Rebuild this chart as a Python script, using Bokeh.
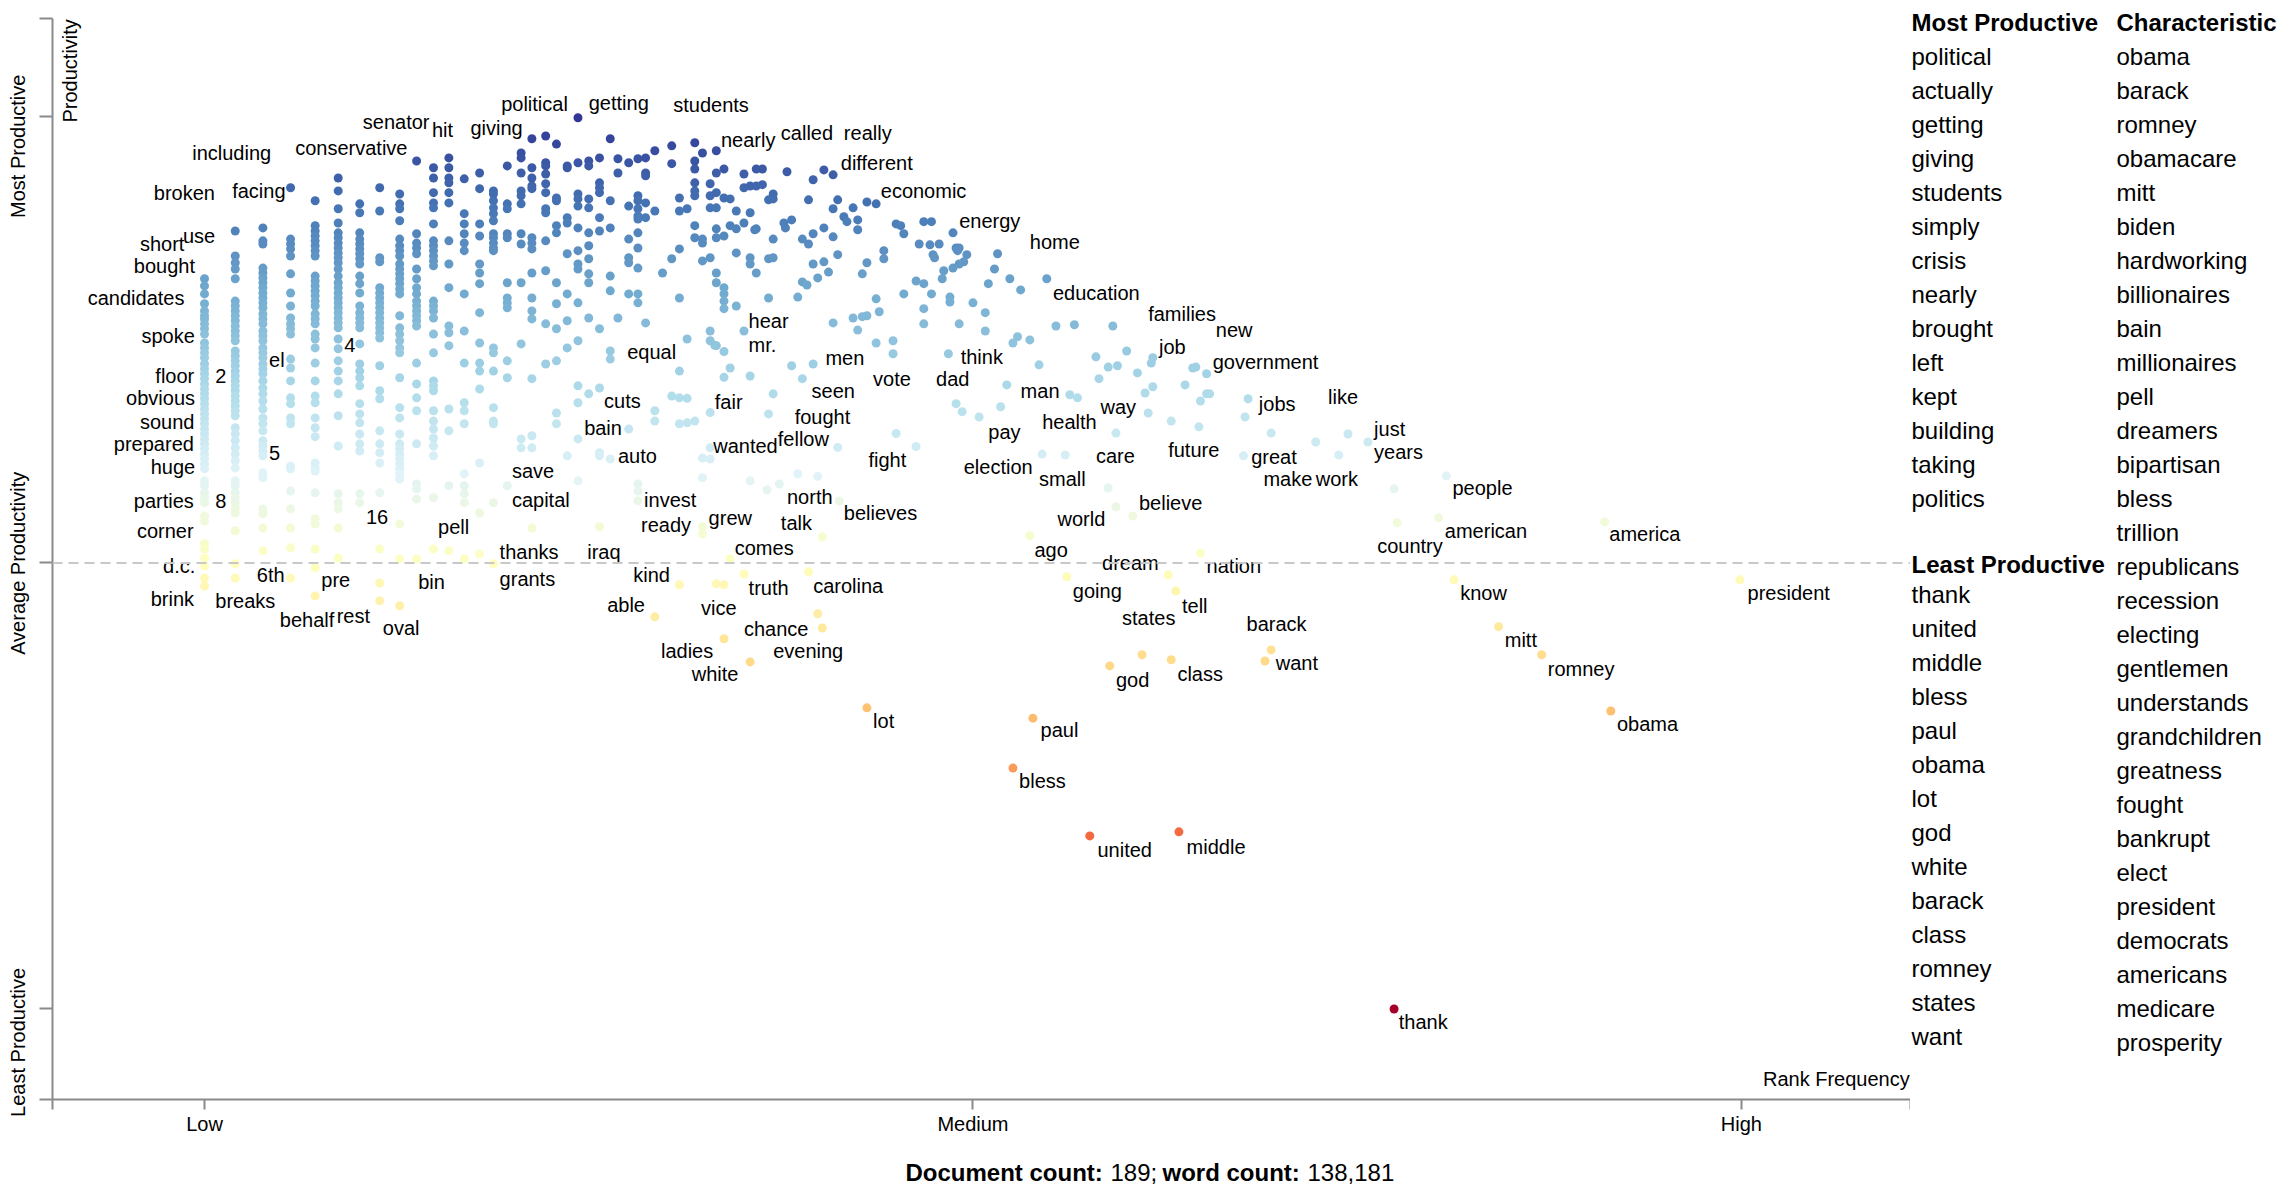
import math
from bokeh.plotting import figure
from bokeh.layouts import row, column
from bokeh.models import Range1d, FixedTicker, Label, Span, ColumnDataSource, LinearColorMapper, LinearAxis
from bokeh.core.properties import value
from bokeh.embed import file_html
from bokeh.resources import INLINE

FONT = "Liberation Sans"

# ---------------- data (x: rank frequency, Low=0 .. High=100; y: productivity, Least=-100 .. Most=100)
column_rank = [0.0, 2.0, 3.8, 5.6, 7.2, 8.7, 10.1, 11.4, 12.7, 13.8, 14.9, 15.9, 16.9, 17.9, 18.8,
               19.7, 20.6, 21.3, 22.2, 22.9, 23.6, 24.3, 25.0, 25.7, 26.4, 26.9, 27.6, 28.2, 28.7,
               29.3, 29.8, 30.4, 30.9, 31.4, 31.9, 32.4, 32.9, 33.3, 33.8, 34.2, 34.6, 35.1, 35.5, 35.9]

column_scores = [
    [63.7, 62.1, 60.3, 58.1, 56.5, 55.4, 54.7, 53.6, 52.5, 51.3, 49.3, 48.2, 47.1, 46.0, 44.6, 43.5, 42.4,
     41.3, 40.1, 39.0, 37.9, 36.8, 35.7, 34.5, 33.4, 32.3, 31.2, 30.0, 28.9, 27.8, 26.7, 25.6, 24.4, 23.3,
     22.2, 21.1, 18.4, 17.3, 15.7, 14.6, 13.5, 10.5, 9.4, 4.3, 3.1, 1.1, -0.7, -3.4, -5.2],
    [74.4, 68.8, 67.3, 65.9, 63.7, 58.7, 57.6, 56.5, 55.4, 54.3, 53.1, 52.0, 50.9, 49.8, 47.5, 46.4, 45.3,
     44.2, 43.0, 41.9, 40.8, 39.7, 38.6, 37.4, 36.3, 35.2, 34.1, 33.0, 30.3, 28.9, 27.4, 25.8, 24.4, 22.9,
     21.3, 18.4, 17.3, 15.7, 14.6, 13.5, 12.3, 11.2, 7.2, -0.2, -3.4],
    [75.1, 72.2, 71.5, 66.1, 65.0, 63.9, 62.8, 61.7, 60.5, 59.4, 58.3, 57.2, 55.8, 54.7, 53.6, 52.0, 50.9,
     49.8, 48.2, 47.1, 46.0, 44.6, 43.5, 42.4, 40.8, 39.2, 37.9, 36.3, 34.5, 32.5, 31.2, 29.6, 27.4, 26.2,
     25.1, 24.0, 20.2, 19.1, 12.1, 11.0, 7.8, 2.7],
    [84.1, 72.6, 71.5, 70.4, 68.8, 64.8, 60.5, 57.6, 54.9, 53.6, 52.5, 51.3, 45.7, 43.7, 40.8, 37.0, 35.7,
     32.5, 31.2, 21.7, 21.1, 16.1, 12.1, 7.8, 3.4, -3.4],
    [81.2, 75.6, 74.4, 73.3, 72.2, 71.1, 70.0, 68.8, 64.3, 63.2, 62.1, 61.0, 59.9, 58.7, 57.6, 55.8, 54.7,
     53.6, 51.3, 50.2, 48.2, 44.8, 40.8, 37.4, 35.9, 32.5, 30.3, 28.3, 22.4, 21.3, 20.6, 15.7, 9.9, 8.7,
     3.1, -1.1, -7.4],
    [86.3, 83.4, 79.4, 76.2, 74.0, 72.9, 71.7, 70.6, 69.5, 68.4, 67.3, 65.9, 64.3, 62.8, 61.7, 60.5, 59.4,
     58.3, 57.2, 56.1, 54.9, 53.8, 52.7, 50.2, 48.0, 45.3, 43.0, 40.8, 37.9, 33.0, 26.2, 15.5, 13.5, 12.1,
     7.8, 1.1],
    [80.5, 78.5, 74.0, 72.6, 71.5, 70.4, 69.3, 68.2, 67.0, 64.3, 62.6, 60.5, 57.6, 56.1, 54.9, 53.8, 52.7,
     49.1, 44.6, 43.0, 41.5, 39.7, 35.7, 33.4, 31.4, 28.9, 26.7, 25.1, 15.5, 13.5],
    [84.1, 78.9, 68.4, 67.5, 61.7, 60.5, 59.4, 58.3, 57.2, 56.1, 54.9, 53.8, 52.7, 51.6, 50.4, 44.2, 38.6,
     36.8, 29.6, 26.7, 24.7, 22.4, 15.7, 3.1, -4.5, -8.5],
    [82.7, 80.5, 79.4, 76.7, 72.6, 71.1, 70.0, 68.8, 67.0, 65.9, 64.8, 63.7, 62.6, 61.4, 60.3, 55.4, 52.7,
     51.3, 49.8, 48.2, 47.1, 41.5, 34.8, 32.5, 28.9, 26.7, 25.6, 24.4, 23.3, 22.2, 21.1, 20.0, 18.8, 8.7,
     0.9, -9.6],
    [90.1, 73.8, 71.7, 70.6, 69.3, 65.9, 63.7, 61.7, 60.3, 58.7, 57.6, 56.5, 55.4, 54.3, 53.1, 44.8, 40.1,
     37.0, 34.1, 26.7, 17.7, 16.6, 14.3, 0.9],
    [88.6, 86.3, 83.0, 80.7, 79.6, 76.0, 72.2, 71.1, 70.0, 68.8, 67.7, 66.6, 58.7, 57.6, 56.5, 54.9, 51.3,
     47.1, 40.8, 39.7, 38.6, 34.1, 31.8, 30.0, 28.0, 26.2, 24.0, 14.6, 3.1],
    [90.8, 88.6, 86.3, 85.2, 83.0, 80.7, 72.2, 67.0, 61.7, 53.1, 51.6, 48.7, 34.5, 29.6, 17.3, 2.7],
    [86.1, 78.3, 76.0, 73.8, 71.7, 70.0, 60.3, 52.0, 44.8, 35.9, 34.1, 31.2, 20.0, 17.3, 15.5, 13.5, 0.9],
    [87.4, 83.9, 76.0, 73.3, 67.0, 65.0, 62.6, 56.1, 49.3, 44.8, 43.0, 39.0, 22.4, 11.2, 2.0],
    [83.4, 82.7, 81.2, 79.6, 78.3, 76.7, 73.8, 72.9, 71.7, 70.6, 70.0, 48.2, 47.1, 43.0, 34.8, 31.8, 31.2,
     13.5, -0.2],
    [89.0, 80.5, 79.4, 73.8, 72.9, 62.8, 59.4, 58.3, 57.2, 45.3, 41.5, 17.3],
    [91.9, 90.8, 87.4, 83.4, 82.3, 80.5, 73.8, 71.5, 62.8, 49.1, 27.8, 25.8],
    [95.1, 88.6, 86.3, 84.5, 83.9, 72.9, 71.7, 70.4, 65.0, 59.4, 56.5, 54.7, 41.3, 28.5, 25.8, 7.8],
    [95.7, 89.7, 89.0, 87.2, 85.0, 83.0, 79.4, 78.5, 72.2, 65.5, 53.6, 44.6],
    [93.9, 81.8, 81.2, 75.6, 74.0, 62.8, 58.1, 52.5, 45.3, 33.6, 31.2],
    [89.0, 88.6, 77.4, 76.2, 69.3, 60.3, 54.3, 48.2, 24.0],
    [99.8, 89.7, 82.7, 81.6, 80.0, 75.1, 70.0, 67.0, 65.9, 58.3, 49.8, 39.7, 35.9, 27.8, 18.4],
    [90.1, 89.0, 81.6, 79.6, 74.0, 71.1, 68.2, 64.8, 62.8, 54.9, 37.9],
    [90.8, 85.2, 84.1, 83.0, 77.4, 74.4, 52.5, 39.2, 24.7, 24.0, 8.1],
    [95.1, 81.2, 75.1, 64.3, 61.0, 47.5, 45.7, 23.3],
    [90.6, 87.4, 54.9],
    [89.7, 80.0, 72.6, 68.4, 67.3, 60.3, 30.0],
    [90.6, 82.3, 81.2, 79.4, 77.8, 77.1, 74.0, 70.6, 66.1, 60.3, 58.3, 17.7, 16.1, 13.9],
    [90.8, 87.4, 86.8, 80.7, 77.4, 53.8],
    [92.4, 78.9, 34.1, 31.8, -12.1],
    [65.0],
    [93.5, 89.5, 68.2, 37.4],
    [81.8, 78.9, 70.4, 59.4, 43.0, 37.0, 31.2, -4.9],
    [79.4, 50.2, 31.4],
    [94.2, 90.1, 88.3, 85.2, 83.4, 82.3, 75.6, 72.9, 31.8],
    [91.9, 72.6, 71.7, 67.7, 23.5, 19.1, 8.1, 6.5],
    [85.0, 82.3, 79.6, 68.4, 52.0, 49.8, 25.8, 23.3],
    [92.4, 87.4, 83.0, 79.6, 74.9, 72.9, 65.0, 62.8, 48.7, -4.7],
    [88.3, 81.8, 73.3, 61.7, 60.3, 58.7, 57.0, -4.9, -17.0],
    [81.6, 75.6, 43.7, 0.9],
    [78.9, 74.9, 69.5, 57.6],
    [87.2, 84.1, 76.2, 52.0, -2.5],
    [84.5, 78.5, 68.4, 67.0, 41.9, 18.4, -22.2],
    [88.3, 84.5, 74.9, 65.0],
]

scatter_rank = [
    36.3, 37.9, 39.6, 40.3, 40.9, 36.3, 36.7, 37.0, 37.0, 39.3, 41.2, 43.1, 43.7, 35.8, 37.0, 37.7, 38.2,
    37.8, 40.9, 41.6, 41.8, 42.2, 42.5, 42.5, 38.9, 39.3, 39.6, 40.3, 40.9, 36.7, 37.0, 39.6, 40.3, 39.9,
    40.6, 41.2, 38.9, 39.2, 38.6, 36.7, 43.1, 42.8, 44.2, 44.2, 45.0, 45.3, 45.5, 46.8, 47.3, 48.7, 46.5,
    47.2, 47.8, 47.4, 47.5, 48.9, 49.1, 49.0, 49.6, 49.4, 49.1, 48.7, 48.1, 51.6, 51.4, 52.4, 53.1, 54.8,
    55.4, 46.3, 46.8, 47.3, 48.0, 45.5, 43.7, 48.5, 48.5, 51.0, 50.0, 50.8, 50.8, 46.8, 46.8, 49.1, 43.9,
    43.1, 42.8, 42.2, 40.9, 42.5, 43.7, 44.8, 44.8, 48.4, 52.6, 52.9, 53.7, 54.3, 39.6, 38.2, 38.9, 37.0,
    36.7, 52.2, 48.9, 49.3, 50.4, 51.8,
    56.6, 59.1, 58.0, 58.8, 59.4, 58.2, 60.0, 60.7, 61.7, 61.6, 61.7, 61.2, 61.4, 64.3, 64.5, 65.2, 63.8,
    65.4, 65.2, 64.8, 62.9, 64.7, 67.9, 67.7, 69.4, 72.3, 74.4, 75.7, 73.8, 67.6, 59.3, 56.0, 56.3, 56.8,
    58.8, 59.3, 60.4, 77.4,
    80.8, 77.6, 80.3, 91.1, 81.3, 99.9, 77.4, 57.6, 63.4, 52.6, 53.9, 43.1, 91.5, 58.9, 61.0, 62.9, 69.4,
    69.0, 84.2, 87.0, 39.9, 40.2, 39.3, 40.2, 41.3, 53.7, 56.1, 62.7, 63.2, 64.8, 33.2, 33.8, 33.8, 31.4,
    32.9, 39.9, 41.2, 45.0, 46.3, 54.5, 36.6, 37.4, 38.6,
]
scatter_score = [
    88.3, 87.7, 85.9, 88.1, 87.0, 84.8, 81.4, 81.6, 82.7, 81.4, 81.4, 80.9, 80.5, 74.7, 72.6, 76.2, 76.9,
    75.1, 79.4, 77.6, 76.5, 79.6, 76.9, 74.7, 72.6, 71.5, 73.8, 75.1, 73.1, 68.2, 68.4, 67.0, 67.5, 63.9,
    65.2, 69.1, 63.0, 62.3, 59.6, 59.4, 67.3, 64.8, 70.0, 68.2, 76.0, 75.6, 73.8, 76.5, 76.5, 74.0, 71.5,
    71.3, 71.5, 69.1, 68.4, 70.6, 70.6, 70.0, 69.1, 67.5, 67.0, 66.1, 65.5, 69.3, 65.9, 63.7, 61.2, 63.7,
    53.1, 63.2, 62.6, 60.3, 63.7, 60.3, 59.2, 59.6, 58.5, 62.6, 58.3, 56.1, 52.0, 57.0, 53.6, 53.6, 56.3,
    55.4, 55.2, 54.9, 53.8, 52.2, 49.3, 49.8, 46.9, 46.9, 49.3, 50.7, 50.0, 44.4, 44.6, 44.2, 41.3, 37.9,
    33.4, 39.9, 35.7, 33.9, 32.7, 35.0,
    53.4, 53.1, 46.2, 43.9, 44.2, 41.3, 47.5, 42.6, 46.0, 44.8, 39.5, 38.1, 33.6, 43.7, 43.9, 42.4, 39.9,
    37.9, 37.9, 36.3, 31.8, 30.5, 36.8, 32.7, 29.1, 27.1, 28.9, 27.1, 24.2, 24.0, 29.1, 24.2, 37.7, 37.0,
    16.8, 12.6, 10.5, 16.6,
    19.5, 9.0, 10.1, 9.2, -3.8, -3.8, -100.0, -61.2, -60.3, -46.0, -34.8, -32.5, -33.2, -23.1, -20.6,
    -21.7, -19.5, -22.0, -14.3, -20.6, -11.4, -14.6, -2.0, 5.8, 13.9, 6.1, -3.1, -2.7, -6.3, 2.2, 48.8,
    47.4, 41.6, 36.9, 33.7, 19.4, 25.9, 29.0, 26.1, 24.4, 16.4, 17.7, 20.0,
]

label_words = ["including", "conservative", "senator", "hit", "giving", "political", "getting", "students",
               "nearly", "called", "really", "different", "economic", "energy", "home", "education",
               "families", "new", "job", "government", "like", "jobs", "just", "years", "great", "make",
               "work", "people", "american", "country", "america", "president", "know", "mitt", "romney",
               "obama", "thank", "united", "middle", "bless", "paul", "lot", "god", "class", "want",
               "barack", "states", "tell", "going", "dream", "nation", "ago", "world", "believe", "care",
               "small", "election", "future", "health", "way", "man", "pay", "dad", "think", "vote", "men",
               "seen", "hear", "mr.", "equal", "fair", "fought", "wanted", "fellow", "fight", "cuts",
               "bain", "auto", "save", "capital", "invest", "ready", "grew", "north", "talk", "believes",
               "comes", "pell", "thanks", "iraq", "grants", "kind", "truth", "carolina", "able", "vice",
               "chance", "evening", "ladies", "white", "16", "bin", "oval", "rest", "behalf", "pre", "6th",
               "breaks", "brink", "d.c.", "corner", "parties", "8", "huge", "5", "prepared", "sound",
               "obvious", "floor", "2", "el", "4", "spoke", "candidates", "bought", "short", "use",
               "broken", "facing"]
label_rank = [-0.8, 5.9, 10.3, 14.8, 17.3, 19.3, 25.0, 30.5, 33.6, 37.5, 41.6, 41.4, 44.0, 49.1, 53.7, 55.2,
              61.4, 65.8, 62.1, 65.6, 73.1, 68.6, 76.1, 76.1, 68.1, 68.9, 72.3, 81.2, 80.7, 76.3, 91.4,
              100.4, 81.7, 84.6, 87.4, 91.9, 77.7, 58.1, 63.9, 53.0, 54.4, 43.5, 59.3, 63.3, 69.7, 67.8,
              59.7, 63.6, 56.5, 58.4, 65.2, 54.0, 55.5, 60.8, 58.0, 54.3, 49.4, 62.7, 54.5, 58.3, 53.1,
              51.0, 47.6, 49.2, 43.5, 40.4, 39.5, 35.4, 35.4, 27.5, 33.2, 38.4, 33.1, 37.3, 43.2, 26.0,
              24.7, 26.9, 20.0, 20.0, 28.6, 28.4, 32.8, 37.9, 37.5, 41.6, 34.5, 15.2, 19.2, 24.9, 19.2,
              27.9, 35.4, 39.6, 26.2, 32.3, 35.1, 37.0, 29.7, 31.7, 10.5, 13.9, 11.6, 8.6, 4.9, 7.6, 3.4,
              0.7, -3.5, -2.7, -4.4, -4.6, 0.7, -3.5, 4.2, -5.9, -4.2, -5.1, -3.2, 0.7, 4.2, 9.1, -4.1,
              -7.6, -4.6, -4.2, -1.4, -3.3, 1.8]
label_score = [92.0, 93.0, 98.8, 97.0, 97.4, 102.8, 103.0, 102.6, 94.9, 96.3, 96.3, 89.6, 83.4, 76.6, 71.9,
               60.4, 55.7, 52.2, 48.4, 45.0, 37.1, 35.6, 30.0, 24.8, 23.7, 18.8, 18.8, 16.7, 7.2, 3.9, 6.4,
               -6.8, -6.8, -17.3, -23.8, -36.1, -103.0, -64.3, -63.6, -49.0, -37.5, -35.5, -26.2, -24.8,
               -22.5, -13.7, -12.4, -9.6, -6.4, 0.0, -0.6, 2.8, 9.9, 13.4, 24.0, 18.8, 21.4, 25.2, 31.5,
               35.0, 38.6, 29.4, 41.3, 46.1, 41.3, 45.9, 38.6, 54.2, 48.8, 47.2, 36.1, 32.7, 26.2, 27.7,
               23.0, 36.3, 30.2, 23.9, 20.5, 14.2, 14.2, 8.6, 10.1, 14.7, 8.9, 11.1, 3.3, 8.0, 2.4, 2.4,
               -3.6, -2.6, -5.6, -5.2, -9.5, -10.0, -14.8, -19.8, -19.8, -25.0, 10.2, -4.3, -14.7, -11.8,
               -12.9, -3.9, -2.8, -8.6, -8.2, -0.6, 7.1, 13.8, 13.8, 21.4, 24.6, 26.6, 31.5, 36.9, 41.8,
               41.8, 45.6, 48.8, 50.8, 59.5, 66.5, 71.6, 73.2, 82.9, 83.3]

most_productive = ["political", "actually", "getting", "giving", "students", "simply", "crisis", "nearly",
                   "brought", "left", "kept", "building", "taking", "politics"]
least_productive = ["thank", "united", "middle", "bless", "paul", "obama", "lot", "god", "white", "barack",
                    "class", "romney", "states", "want"]
characteristic = ["obama", "barack", "romney", "obamacare", "mitt", "biden", "hardworking", "billionaires",
                  "bain", "millionaires", "pell", "dreamers", "bipartisan", "bless", "trillion",
                  "republicans", "recession", "electing", "gentlemen", "understands", "grandchildren",
                  "greatness", "fought", "bankrupt", "elect", "president", "democrats", "americans",
                  "medicare", "prosperity"]
x_tick_labels = {0: "Low", 50: "Medium", 100: "High"}
y_tick_labels = {100: "Most Productive", 0: "Average Productivity", -100: "Least Productive"}
doc_count = 189
word_count = 138181

# ---------------- colours (RdYlBu, red = least productive, blue = most productive)
stops = ["#a50026", "#d73027", "#f46d43", "#fdae61", "#fee090", "#ffffbf",
         "#e0f3f8", "#abd9e9", "#74add1", "#4575b4", "#313695"]


def _rgb(h):
    return tuple(int(h[i:i + 2], 16) for i in (1, 3, 5))


palette = []
for i in range(256):
    t = i / 255 * 10
    k = min(int(t), 9)
    f = t - k
    a, b = _rgb(stops[k]), _rgb(stops[k + 1])
    palette.append("#%02x%02x%02x" % tuple(round(a[j] + (b[j] - a[j]) * f) for j in range(3)))
mapper = LinearColorMapper(palette=palette, low=-100, high=100)

# ---------------- main figure
X0, X1 = -9.89, 111.0
Y0, Y1 = -120.3, 122.05
p = figure(width=1910, height=1144, x_range=Range1d(X0, X1), y_range=Range1d(Y0, Y1),
           output_backend="svg", toolbar_location=None,
           min_border_left=52, min_border_right=0, min_border_top=18, min_border_bottom=45)
p.title.visible = False
p.outline_line_color = None
p.xgrid.visible = False
p.ygrid.visible = False
p.background_fill_color = "white"

AX = "#8a8a8a"
for ax in (p.xaxis[0], p.yaxis[0]):
    ax.axis_line_color = AX
    ax.axis_line_width = 2
    ax.major_tick_line_color = AX
    ax.major_tick_line_width = 2
    ax.minor_tick_line_color = None
    ax.major_tick_in = 0
    ax.major_label_text_font = FONT
    ax.major_label_text_color = "black"

xt = [X0 + 0.02] + sorted(x_tick_labels) + [X1 - 0.02]
p.xaxis.ticker = FixedTicker(ticks=xt)
p.xaxis.major_label_overrides = {t: x_tick_labels.get(t, "") for t in xt}
p.xaxis.major_tick_out = 10
p.xaxis.major_label_standoff = 3
p.xaxis.major_label_text_font_size = "20px"

yt = [Y0 + 0.02] + sorted(y_tick_labels) + [Y1 - 0.02]
p.yaxis.ticker = FixedTicker(ticks=yt)
p.yaxis.major_label_overrides = {t: "" for t in yt}
p.yaxis.major_tick_out = 13
p.yaxis.major_label_standoff = 0
p.yaxis.major_label_text_font_size = "1px"

# second left axis carrying only the rotated category labels
label_pos = {100: 93.4, 0: -0.1, -100: -107.5}
ylab_axis = LinearAxis(ticker=FixedTicker(ticks=[label_pos[k] for k in y_tick_labels]),
                       major_label_overrides={label_pos[k]: v for k, v in y_tick_labels.items()},
                       axis_line_color=None, major_tick_line_color=None, minor_tick_line_color=None,
                       major_label_orientation="parallel", major_label_standoff=4,
                       major_label_text_font=FONT, major_label_text_font_size="20px",
                       major_label_text_color="black")
p.add_layout(ylab_axis, "left")

p.add_layout(Span(location=0, dimension="width", line_color="#c8c8c8", line_width=2, line_dash="10 6"))

xs, ys = [], []
for r, col in zip(column_rank, column_scores):
    for s in col:
        xs.append(r)
        ys.append(s)
xs += scatter_rank
ys += scatter_score
src = ColumnDataSource(dict(x=xs, y=ys))
p.scatter("x", "y", source=src, size=9, line_color=None,
          fill_color={"field": "y", "transform": mapper})

lsrc = ColumnDataSource(dict(x=label_rank, y=label_score, t=label_words))
p.text("x", "y", text="t", source=lsrc, text_font=value(FONT), text_font_size="20px",
       text_baseline="middle", text_align="left", text_color="black")

p.add_layout(Label(x=-8.72, y=121.9, text="Productivity", angle=math.pi / 2, text_align="right",
                   text_baseline="middle", text_font=FONT, text_font_size="20px", text_color="black"))
p.add_layout(Label(x=110.95, y=-115.8, text="Rank Frequency", text_align="right", text_baseline="middle",
                   text_font=FONT, text_font_size="20px", text_color="black"))


def blank_fig(w, h, x_range):
    f = figure(width=w, height=h, x_range=x_range, y_range=Range1d(h, 0),
               output_backend="svg", toolbar_location=None, x_axis_location=None,
               y_axis_location=None, min_border=0)
    f.title.visible = False
    f.outline_line_color = None
    f.grid.visible = False
    return f


# ---------------- footer (its frame is aligned with the main frame: page x 52..1910)
foot = blank_fig(1910, 44, Range1d(52, 1910))
fsrc_b = ColumnDataSource(dict(x=[905, 1162], y=[28, 28], t=["Document count:", "word count:"]))
fsrc_n = ColumnDataSource(dict(x=[1110, 1307], y=[28, 28], t=[f"{doc_count};", f"{word_count:,}"]))
foot.text("x", "y", text="t", source=fsrc_b, text_font=value(FONT), text_font_size="24px",
          text_font_style="bold", text_baseline="middle", text_align="left", text_color="black")
foot.text("x", "y", text="t", source=fsrc_n, text_font=value(FONT), text_font_size="24px",
          text_baseline="middle", text_align="left", text_color="black")

# ---------------- right-hand term lists
side = blank_fig(376, 1188, Range1d(0, 376))
hx, hy, ht = [], [], []
ix, iy, it = [], [], []
for xpos, ytop, header, items in [(1, 22, "Most Productive", most_productive),
                                  (1, 564, "Least Productive", least_productive),
                                  (206, 22, "Characteristic", characteristic)]:
    hx.append(xpos)
    hy.append(ytop)
    ht.append(header)
    for i, w in enumerate(items):
        ix.append(xpos)
        iy.append(ytop + 30 + 34 * i + (3.5 if ytop < 100 else 0))
        it.append(w)
side.text(hx, hy, text=ht, text_font=value(FONT), text_font_size="24px", text_font_style="bold",
          text_baseline="middle", text_align="left", text_color="black")
side.text(ix, iy, text=it, text_font=value(FONT), text_font_size="24px",
          text_baseline="middle", text_align="left", text_color="black")

layout = row(column(p, foot), side)
open("out.html", "w").write(file_html(layout, INLINE))
